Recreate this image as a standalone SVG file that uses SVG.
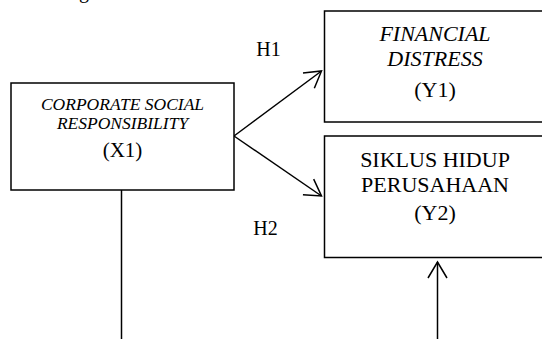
<svg xmlns="http://www.w3.org/2000/svg" width="542" height="339" viewBox="0 0 542 339">
<style>
.box{fill:#fff;stroke:#000;stroke-width:1.5}
.t{font-family:"Liberation Serif","Times New Roman",serif;fill:#000;text-anchor:middle}
.i{font-style:italic}
.ln{fill:none;stroke:#000;stroke-width:1.5}
</style>
<defs>
<marker id="ah" markerUnits="userSpaceOnUse" markerWidth="24" markerHeight="24" viewBox="-20 -12 24 24" refX="0" refY="0" orient="auto" overflow="visible">
<path d="M-16,-9.5 L0,0 L-16,9.5" fill="none" stroke="#000" stroke-width="1.5"/>
</marker>
</defs>
<rect width="542" height="339" fill="#fff"/>
<text class="t" x="84" y="-2" font-size="20">g</text>
<g id="connectors">
<line class="ln" x1="234" y1="136" x2="321.5" y2="71" marker-end="url(#ah)"/>
<line class="ln" x1="234" y1="136" x2="321.5" y2="196" marker-end="url(#ah)"/>
<line class="ln" x1="121.5" y1="190" x2="121.5" y2="339" stroke-width="2"/>
<line class="ln" x1="437.5" y1="339" x2="437.5" y2="262" marker-end="url(#ah)"/>
<text class="t" x="268.5" y="55.5" font-size="20">H1</text>
<text class="t" x="265.5" y="235" font-size="20">H2</text>
</g>
<g id="x1">
<rect class="box" x="11" y="83" width="223" height="107" stroke-width="2"/>
<text class="t i" x="122.5" y="109.5" font-size="17.5">CORPORATE SOCIAL</text>
<text class="t i" x="122.5" y="129" font-size="17.5">RESPONSIBILITY</text>
<text class="t" x="122.5" y="157" font-size="21">(X1)</text>
</g>
<g id="y1">
<rect class="box" x="324.5" y="11" width="230" height="111"/>
<text class="t i" x="435" y="41" font-size="22">FINANCIAL</text>
<text class="t i" x="435" y="66" font-size="22">DISTRESS</text>
<text class="t" x="435" y="96.5" font-size="22">(Y1)</text>
</g>
<g id="y2">
<rect class="box" x="324.5" y="136" width="230" height="121.5"/>
<text class="t" x="435" y="166.5" font-size="22">SIKLUS HIDUP</text>
<text class="t" x="435" y="191.5" font-size="22">PERUSAHAAN</text>
<text class="t" x="435" y="220" font-size="22">(Y2)</text>
</g>
</svg>
